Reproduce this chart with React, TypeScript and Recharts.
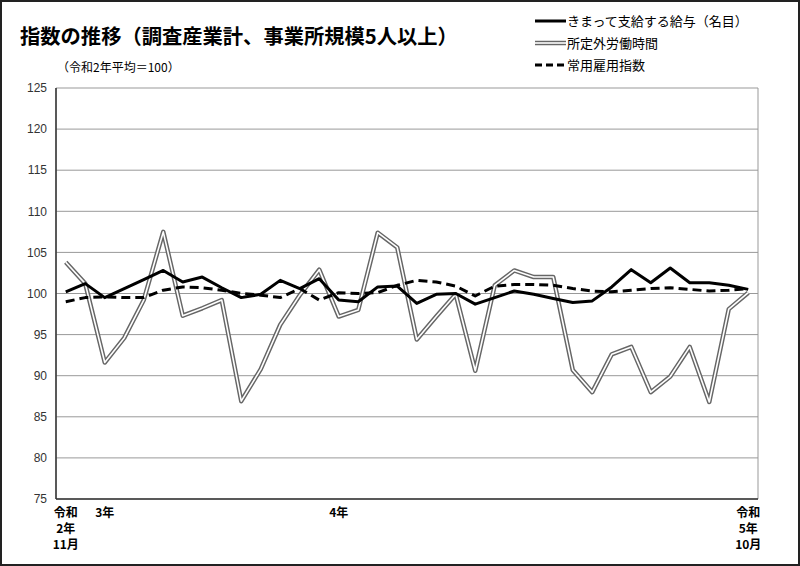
import React from "react";
import { LineChart, Line, XAxis, YAxis, CartesianGrid } from "recharts";

const JP = '"Noto Sans CJK JP", "Noto Sans", sans-serif';

// 令和2年11月 〜 令和5年10月
const periods = [
  "R2.11", "R2.12",
  "R3.1", "R3.2", "R3.3", "R3.4", "R3.5", "R3.6", "R3.7", "R3.8", "R3.9", "R3.10", "R3.11", "R3.12",
  "R4.1", "R4.2", "R4.3", "R4.4", "R4.5", "R4.6", "R4.7", "R4.8", "R4.9", "R4.10", "R4.11", "R4.12",
  "R5.1", "R5.2", "R5.3", "R5.4", "R5.5", "R5.6", "R5.7", "R5.8", "R5.9", "R5.10",
];

// きまって支給する給与（名目）
const wage = [
  100.2, 101.2, 99.5, 100.6, 101.7, 102.8, 101.4, 102.0, 100.7, 99.5, 99.9, 101.6,
  100.6, 101.8, 99.2, 99.0, 100.8, 100.9, 98.8, 99.9, 100.0, 98.7, 99.5, 100.3,
  99.9, 99.4, 98.9, 99.1, 100.8, 102.9, 101.3, 103.1, 101.3, 101.3, 101.0, 100.5,
];

// 所定外労働時間
const overtime = [
  103.8, 101.2, 91.6, 94.6, 99.2, 107.5, 97.3, 98.2, 99.2, 86.9, 90.8, 96.2,
  99.8, 102.9, 97.2, 98.0, 107.4, 105.6, 94.4, 97.2, 99.9, 90.6, 101.0, 102.8,
  102.0, 102.0, 90.7, 88.0, 92.6, 93.5, 88.0, 89.9, 93.5, 86.8, 98.1, 100.1,
];

// 常用雇用指数
const employment = [
  99.0, 99.5, 99.6, 99.5, 99.5, 100.4, 100.8, 100.7, 100.4, 100.0, 99.8, 99.5,
  100.6, 99.2, 100.1, 100.0, 100.1, 101.0, 101.6, 101.4, 100.9, 99.7, 100.9, 101.1,
  101.1, 101.0, 100.6, 100.3, 100.2, 100.4, 100.6, 100.7, 100.5, 100.3, 100.4, 100.6,
];

const yTicks = [75, 80, 85, 90, 95, 100, 105, 110, 115, 120, 125];

const xTickLabels: Record<number, string[]> = {
  0: ["令和", "2年", "11月"],
  2: ["3年"],
  14: ["4年"],
  35: ["令和", "5年", "10月"],
};

const data = periods.map((p, i) => ({
  idx: i,
  period: p,
  wage: wage[i],
  overtime: overtime[i],
  employment: employment[i],
}));

const xDomain = [-0.5, periods.length - 0.5];
// grid line every 3 months, on category boundaries
const gridTicks = Array.from({ length: periods.length / 3 + 1 }, (_, k) => k * 3 - 0.5);
const labelTicks = Object.keys(xTickLabels).map(Number);

function MonthTick(props: any) {
  const { x, y, payload } = props;
  const lines = xTickLabels[payload.value] || [];
  return (
    <text x={x} y={y} textAnchor="middle" fontFamily={JP} fontWeight="bold" fontSize={12} fill="#000">
      {lines.map((t, i) => (
        <tspan key={i} x={x} dy={i === 0 ? 10 : 16}>
          {t}
        </tspan>
      ))}
    </text>
  );
}

function LegendRow({ top, label, kind }: { top: number; label: string; kind: "solid" | "double" | "dashed" }) {
  return (
    <div style={{ position: "absolute", left: 535, top: top - 9, height: 18, display: "flex", alignItems: "center" }}>
      <svg width={32} height={10} style={{ display: "block" }}>
        {kind === "solid" && <line x1={0} y1={5} x2={31} y2={5} stroke="#000" strokeWidth={3} />}
        {kind === "double" && (
          <>
            <line x1={0} y1={5} x2={31} y2={5} stroke="#666" strokeWidth={4.5} />
            <line x1={0} y1={5} x2={31} y2={5} stroke="#fff" strokeWidth={1.6} />
          </>
        )}
        {kind === "dashed" && <line x1={0} y1={5} x2={31} y2={5} stroke="#000" strokeWidth={3} strokeDasharray="7 4" />}
      </svg>
      <span style={{ fontFamily: JP, fontSize: 13, lineHeight: "18px", color: "#000", whiteSpace: "nowrap" }}>{label}</span>
    </div>
  );
}

export default function App() {
  return (
    <div style={{ position: "absolute", left: 0, top: 0, width: 800, height: 566, background: "#fff", overflow: "hidden" }}>
      <div style={{ position: "absolute", left: 0, top: 0 }}>
        <LineChart width={800} height={566} data={data} margin={{ top: 88, right: 42, left: 6, bottom: 7 }}>
          <CartesianGrid xAxisId="grid" stroke="#999" strokeWidth={1} />
          <XAxis
            xAxisId="grid"
            dataKey="idx"
            type="number"
            domain={xDomain}
            ticks={gridTicks}
            orientation="top"
            height={0}
            tick={false}
            tickLine={false}
            axisLine={false}
          />
          <XAxis
            dataKey="idx"
            type="number"
            domain={xDomain}
            ticks={labelTicks}
            interval={0}
            height={60}
            tickLine={false}
            axisLine={{ stroke: "#333", strokeWidth: 1.5 }}
            tick={<MonthTick />}
          />
          <YAxis
            domain={[75, 125]}
            ticks={yTicks}
            interval={0}
            width={50}
            tickSize={7}
            tickLine={false}
            axisLine={{ stroke: "#333", strokeWidth: 1.5 }}
            tick={{ fontFamily: '"Liberation Sans", Arial, sans-serif', fontSize: 12, fill: "#333" }}
          />
          <Line
            dataKey="overtime"
            type="linear"
            stroke="#666"
            strokeWidth={4.5}
            strokeLinejoin="round"
            dot={false}
            activeDot={false}
            isAnimationActive={false}
          />
          <Line
            dataKey="overtime"
            type="linear"
            stroke="#fff"
            strokeWidth={1.6}
            strokeLinejoin="round"
            dot={false}
            activeDot={false}
            isAnimationActive={false}
          />
          <Line
            dataKey="employment"
            type="linear"
            stroke="#000"
            strokeWidth={3}
            strokeDasharray="9 5"
            strokeLinejoin="round"
            dot={false}
            activeDot={false}
            isAnimationActive={false}
          />
          <Line
            dataKey="wage"
            type="linear"
            stroke="#000"
            strokeWidth={3}
            strokeLinejoin="round"
            dot={false}
            activeDot={false}
            isAnimationActive={false}
          />
        </LineChart>
      </div>

      <div
        style={{
          position: "absolute",
          left: 20,
          top: 22,
          fontFamily: JP,
          fontWeight: "bold",
          fontSize: 20.3,
          lineHeight: "26px",
          color: "#000",
          whiteSpace: "nowrap",
        }}
      >
        指数の推移（調査産業計、事業所規模5人以上）
      </div>
      <div
        style={{
          position: "absolute",
          left: 57,
          top: 59,
          fontFamily: JP,
          fontSize: 12,
          lineHeight: "16px",
          color: "#000",
          whiteSpace: "nowrap",
        }}
      >
        （令和2年平均＝100）
      </div>

      <LegendRow top={21} label="きまって支給する給与（名目）" kind="solid" />
      <LegendRow top={43} label="所定外労働時間" kind="double" />
      <LegendRow top={65} label="常用雇用指数" kind="dashed" />

      <div
        style={{
          position: "absolute",
          left: 0,
          top: 0,
          width: 800,
          height: 566,
          border: "2px solid #222",
          boxSizing: "border-box",
          pointerEvents: "none",
        }}
      />
    </div>
  );
}
